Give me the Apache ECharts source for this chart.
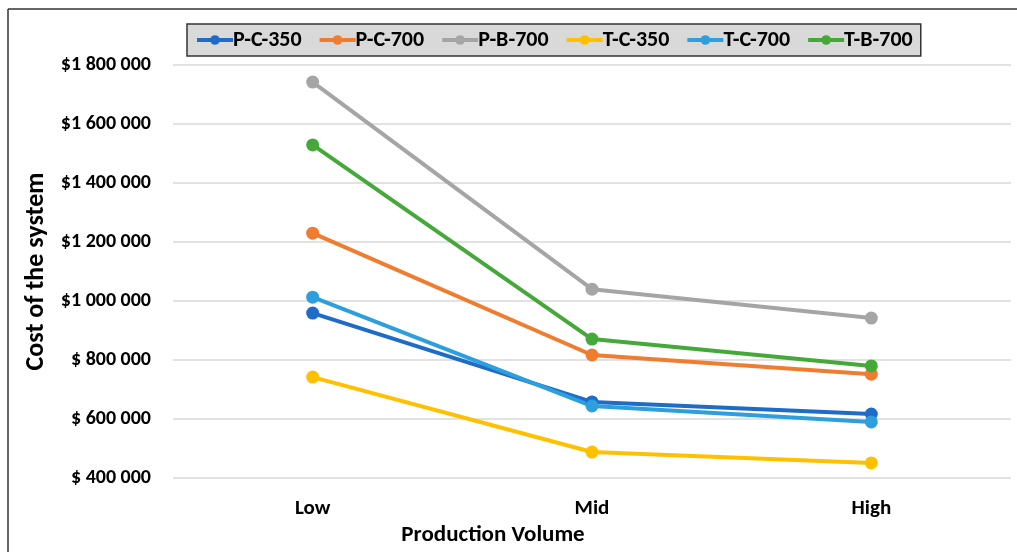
<!DOCTYPE html>
<html>
<head>
<meta charset="utf-8">
<script src="https://cdn.jsdelivr.net/npm/echarts@6/dist/echarts.min.js"></script>
<style>
  html, body { margin: 0; padding: 0; background: #fff; }
  #chart { width: 1017px; height: 552px; }
</style>
</head>
<body>
<div id="chart"></div>
<script>
var categories = ['Low', 'Mid', 'High'];
var seriesNames = ['P-C-350', 'P-C-700', 'P-B-700', 'T-C-350', 'T-C-700', 'T-B-700'];
var pC350 = [959000, 658000, 617000];
var pC700 = [1230000, 817000, 752000];
var pB700 = [1742000, 1040000, 942000];
var tC350 = [742000, 488000, 451000];
var tC700 = [1013000, 644000, 590000];
var tB700 = [1529000, 871000, 780000];
var colors = ['#1f6cc8', '#f07c30', '#a5a5a5', '#ffc000', '#2d9fdd', '#45a93a'];

var font = "Carlito, 'Liberation Sans Narrow', 'Open Sans', sans-serif";
var values = [pC350, pC700, pB700, tC350, tC700, tB700];

// "$1 800 000" / "$ 800 000"
function money(v) {
  var s = String(v).replace(/\B(?=(\d{3})+(?!\d))/g, ' ');
  return v >= 1000000 ? '$' + s : '$ ' + s;
}

var myChart = echarts.init(document.getElementById('chart'));
myChart.setOption({
  color: colors,
  textStyle: { fontFamily: font },
  graphic: [
    { type: 'line', shape: { x1: 8, y1: 9, x2: 1017, y2: 9 }, style: { stroke: '#333', lineWidth: 1.5 } },
    { type: 'line', shape: { x1: 8, y1: 9, x2: 8, y2: 552 }, style: { stroke: '#333', lineWidth: 1.5 } }
  ],
  legend: {
    top: 24,
    left: 187,
    padding: [5, 8, 5, 8],
    itemGap: 16,
    itemWidth: 36,
    itemHeight: 12,
    backgroundColor: '#d9d9d9',
    borderColor: '#333',
    borderWidth: 1.5,
    lineStyle: { width: 4 },
    textStyle: { fontFamily: font, fontWeight: 'bold', fontSize: 22, color: '#000', padding: [0, 0, 0, -5] },
    data: seriesNames
  },
  grid: { left: 173, right: 6, top: 65, bottom: 74, containLabel: false },
  xAxis: {
    type: 'category',
    data: categories,
    name: 'Production Volume',
    nameLocation: 'middle',
    nameGap: 46,
    nameTextStyle: { fontFamily: font, fontWeight: 'bold', fontSize: 23, color: '#000', padding: [0, 198, 0, 0] },
    axisLine: { show: false },
    axisTick: { show: false },
    axisLabel: { fontFamily: font, fontWeight: 'bold', fontSize: 21, color: '#000', margin: 20 }
  },
  yAxis: {
    type: 'value',
    min: 400000,
    max: 1800000,
    interval: 200000,
    name: 'Cost of the system',
    nameLocation: 'middle',
    nameGap: 122,
    nameTextStyle: { fontFamily: font, fontWeight: 'bold', fontSize: 26, color: '#000' },
    axisLine: { show: false },
    axisTick: { show: false },
    splitLine: { lineStyle: { color: '#d9d9d9', width: 1.5 } },
    axisLabel: { fontFamily: font, fontWeight: 'bold', fontSize: 20, color: '#000', margin: 22, formatter: money }
  },
  series: seriesNames.map(function (n, i) {
    return {
      name: n,
      type: 'line',
      data: values[i],
      symbol: 'circle',
      symbolSize: 13,
      lineStyle: { width: 4 },
      itemStyle: { color: colors[i] }
    };
  })
});
</script>
</body>
</html>
